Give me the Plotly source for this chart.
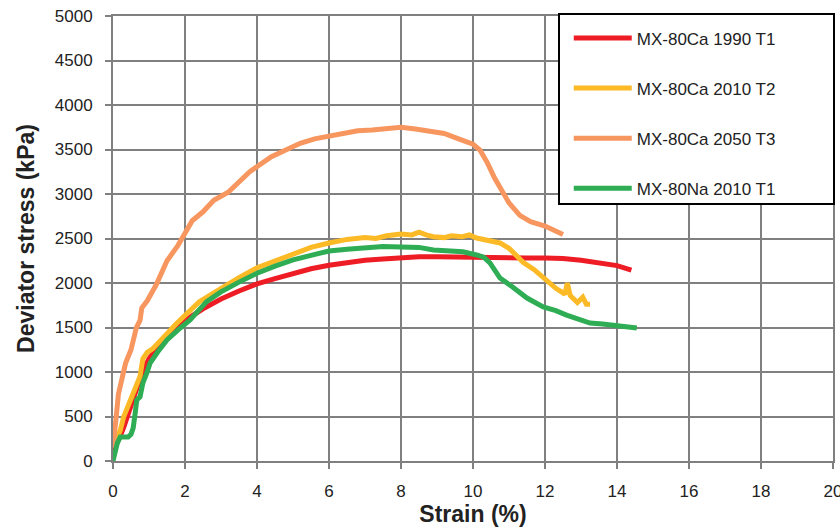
import plotly.graph_objects as go

# ---- data ----
red_x = [0, 0.1, 0.2, 0.3, 0.45, 0.6, 0.8, 1.0, 1.25, 1.5, 1.75, 2.0, 2.5, 3.0, 3.5, 4.0, 4.5, 5.0, 5.5, 6.0,
         6.5, 7.0, 7.5, 8.0, 8.5, 9.0, 9.5, 10.0, 10.5, 11.0, 11.5, 12.0, 12.5, 13.0, 13.5, 14.0, 14.4]
red_y = [100, 180, 280, 380, 560, 760, 980, 1150, 1290, 1410, 1500, 1580, 1710, 1820, 1910, 1990, 2050, 2110, 2160, 2200,
         2230, 2255, 2270, 2285, 2295, 2295, 2290, 2285, 2280, 2275, 2280, 2280, 2275, 2255, 2230, 2195, 2145]

yel_x = [0, 0.1, 0.2, 0.3, 0.45, 0.6, 0.75, 0.83, 0.95, 1.1, 1.3, 1.5, 1.75, 2.0, 2.4, 2.8, 3.0, 3.5, 4.0, 4.5,
         5.0, 5.5, 6.0, 6.5, 7.0, 7.3, 7.6, 8.0, 8.3, 8.5, 8.7, 8.9, 9.2, 9.4, 9.7, 9.9, 10.1, 10.4, 10.75, 11.0,
         11.2, 11.4, 11.7, 12.0, 12.3, 12.5, 12.55, 12.62, 12.7, 12.9, 13.05, 13.15, 13.25]
yel_y = [170, 250, 340, 500, 640, 780, 950, 1150, 1220, 1260, 1340, 1430, 1540, 1640, 1790, 1890, 1940, 2060, 2170, 2250,
         2320, 2400, 2450, 2490, 2510, 2500, 2530, 2550, 2540, 2570, 2540, 2520, 2510, 2530, 2520, 2540, 2505, 2480, 2450, 2390,
         2300, 2230, 2150, 2040, 1940, 1890, 1870, 2000, 1860, 1780, 1840, 1760, 1760]

ora_x = [0, 0.05, 0.1, 0.15, 0.25, 0.35, 0.5, 0.65, 0.75, 0.8, 0.95, 1.2, 1.5, 1.8, 2.0, 2.2, 2.5, 2.8, 3.2, 3.5,
         3.8, 4.4, 5.2, 5.6, 6.0, 6.4, 6.8, 7.2, 7.6, 8.0, 8.4, 8.8, 9.2, 9.6, 10.0, 10.2, 10.4, 10.6, 10.8, 11.0,
         11.3, 11.6, 12.0, 12.5]
ora_y = [150, 300, 540, 750, 950, 1100, 1250, 1500, 1580, 1720, 1800, 1980, 2250, 2420, 2560, 2700, 2800, 2930, 3020, 3130,
         3250, 3420, 3570, 3620, 3650, 3680, 3710, 3720, 3730, 3750, 3730, 3700, 3680, 3620, 3560, 3490, 3350, 3180, 3030, 2900,
         2760, 2690, 2640, 2545]

grn_x = [0, 0.05, 0.12, 0.2, 0.42, 0.5, 0.56, 0.62, 0.66, 0.75, 0.83, 0.95, 1.03, 1.25, 1.5, 1.8, 2.14, 2.6, 3.0, 3.5,
         4.0, 4.5, 5.0, 5.5, 6.0, 6.5, 7.0, 7.5, 8.0, 8.5, 8.9, 9.3, 9.72, 10.1, 10.3, 10.47, 10.6, 10.75, 11.1, 11.5,
         11.95, 12.3, 12.6, 13.0, 13.25, 13.6, 13.9, 14.2, 14.55]
grn_y = [0, 80, 200, 270, 270, 300, 370, 550, 685, 720, 876, 1000, 1100, 1230, 1360, 1470, 1584, 1790, 1900, 2010,
         2110, 2190, 2260, 2310, 2360, 2380, 2400, 2410, 2405, 2400, 2370, 2365, 2350, 2315, 2290, 2225, 2150, 2056, 1955, 1831,
         1730, 1690, 1640, 1590, 1550, 1540, 1528, 1510, 1494]

series = [
    ("MX-80Ca 1990 T1", red_x, red_y, "#EE1C25"),
    ("MX-80Ca 2010 T2", yel_x, yel_y, "#FBBA26"),
    ("MX-80Ca 2050 T3", ora_x, ora_y, "#F7965F"),
    ("MX-80Na 2010 T1", grn_x, grn_y, "#2EAD55"),
]

x_ticks = list(range(0, 21, 2))
y_ticks = list(range(0, 5001, 500))

fig = go.Figure()
for i, (name, xs, ys, col) in enumerate(series):
    fig.add_trace(go.Scatter(x=xs, y=ys, name=name, mode="lines", legendgroup=f"g{i}",
                             line=dict(color=col, width=5)))

grid = "#808080"
fig.update_layout(
    width=840, height=529,
    margin=dict(l=113, r=7, t=16, b=68, autoexpand=False),
    paper_bgcolor="white", plot_bgcolor="white",
    font=dict(family="Liberation Sans, Arial, sans-serif", size=17, color="#222"),
    showlegend=True,
    legend=dict(x=0.633, y=0.99, xanchor="left", yanchor="top",
                bgcolor="rgba(0,0,0,0)", borderwidth=0,
                itemwidth=58, tracegroupgap=25,
                font=dict(size=17, color="#222")),
    xaxis=dict(range=[0, 20], tickvals=x_ticks, showgrid=True, gridcolor=grid, gridwidth=2,
               zeroline=False, showline=True, linecolor=grid, linewidth=2, mirror=True,
               ticks="outside", ticklen=6, tickwidth=2, tickcolor=grid, ticklabelstandoff=8,
               ticklabeloverflow="allow", automargin=False, tickfont=dict(size=17),
               title=dict(text="<b>Strain (%)</b>", font=dict(size=23, color="#222"), standoff=2)),
    yaxis=dict(range=[0, 5000], tickvals=y_ticks, showgrid=True, gridcolor=grid, gridwidth=2,
               zeroline=False, showline=True, linecolor=grid, linewidth=2, mirror=True,
               ticks="outside", ticklen=6, tickwidth=2, tickcolor=grid, ticklabelstandoff=9,
               automargin=False, tickfont=dict(size=17),
               title=dict(text="<b>Deviator stress (kPa)</b>", font=dict(size=23, color="#222"), standoff=14)),
)

# legend frame
fig.add_shape(type="rect", xref="paper", yref="paper",
              x0=(559 - 113) / 720, x1=(834 - 113) / 720,
              y0=(461 - 204) / 445, y1=(461 - 14) / 445,
              line=dict(color="black", width=2), fillcolor="white", layer="above")

fig.write_html("out.html")
